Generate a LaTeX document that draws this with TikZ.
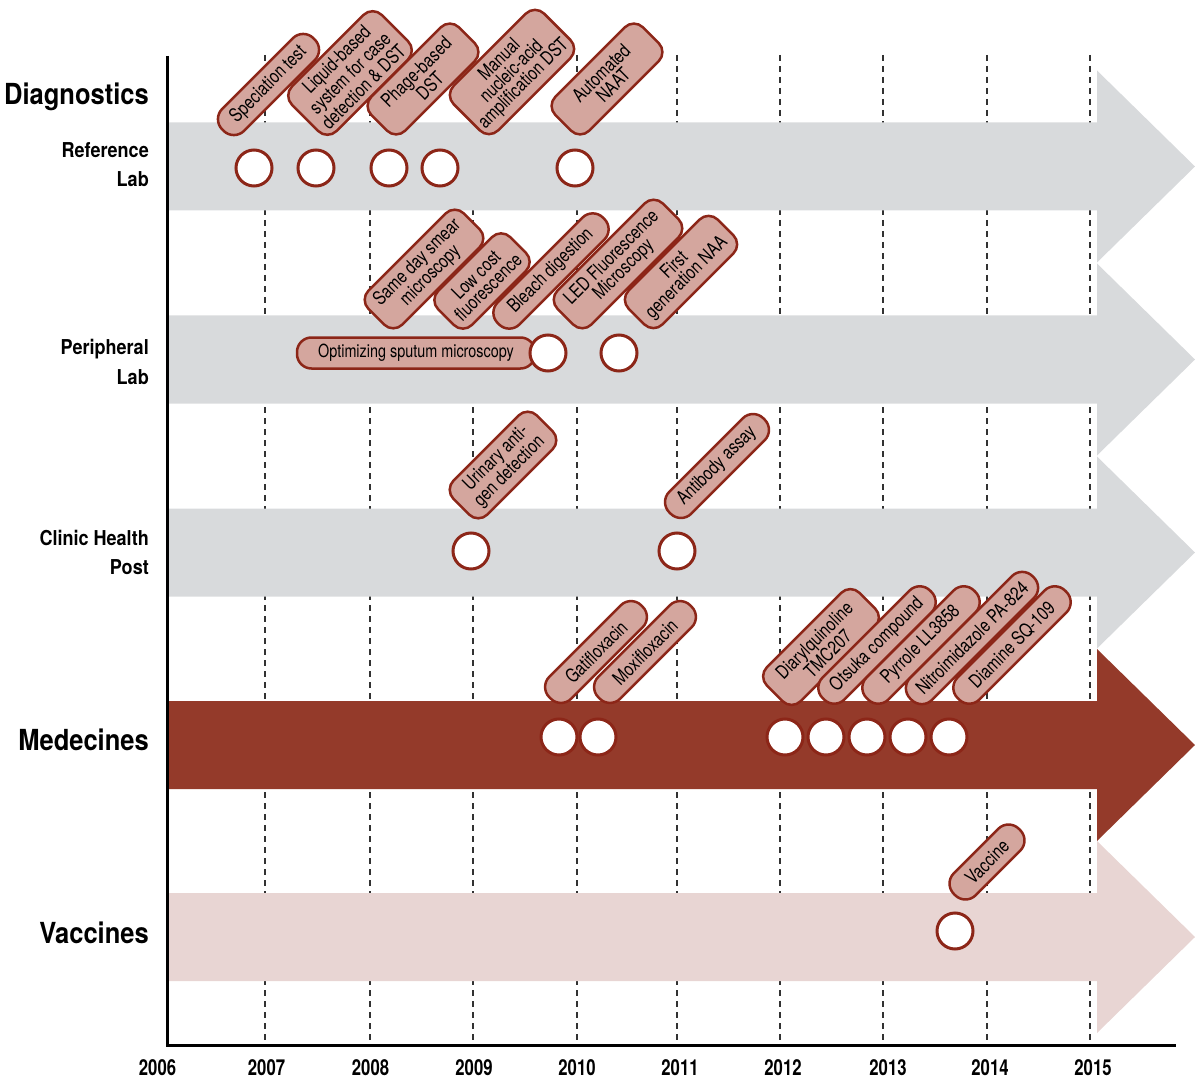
\documentclass[tikz,border=0pt]{standalone}
\usepackage{fontspec}
\setmainfont{TeX Gyre Heros}[FakeStretch=0.8]
\newfontfamily\headfont{TeX Gyre Heros}[FakeStretch=0.88]
\newfontfamily\yearfont{TeX Gyre Heros}[FakeStretch=0.76]
\definecolor{pillfill}{RGB}{212,166,158}
\definecolor{darkred}{RGB}{140,38,24}
\definecolor{medband}{RGB}{148,58,42}
\definecolor{grayband}{RGB}{216,218,220}
\definecolor{vacband}{RGB}{232,213,211}
\definecolor{dashcol}{RGB}{50,50,50}
\begin{document}
\begin{tikzpicture}[x=1pt,y=-1pt,
  pill/.style={draw=darkred, fill=pillfill, line width=2.5pt, rotate=45, align=center,
    inner xsep=4pt, inner ysep=2pt, font=\fontsize{19}{17}\selectfont},
  pone/.style={pill, minimum height=31pt, rounded corners=14.5pt},
  ptwo/.style={pill, minimum height=48pt, rounded corners=13pt},
  pthree/.style={pill, minimum height=63pt, rounded corners=13pt},
  dot/.style={circle, draw=darkred, line width=3pt, fill=white, minimum size=36pt, inner sep=0pt},
  yearlbl/.style={font=\yearfont\bfseries\fontsize{22}{22}\selectfont, anchor=base, inner sep=0pt},
  headlbl/.style={font=\headfont\bfseries\fontsize{29}{29}\selectfont, anchor=base east, inner sep=0pt},
  sublbl/.style={font=\headfont\bfseries\fontsize{20.5}{29}\selectfont, anchor=base east, inner sep=0pt},
  yearline/.style={dashcol, line width=1.4pt, dash pattern=on 6pt off 5pt},
]
\useasboundingbox (0,0) rectangle (1195,1078);

% year grid lines
\foreach \gx in {265,370,473,577,677,780,883,987,1090}
  \draw[yearline] (\gx,55) -- (\gx,1045);

% bands (arrows)
\foreach \cy/\col in {166.5/grayband, 359.5/grayband, 552.5/grayband, 745/medband, 937/vacband}
  \fill[\col] (167,\cy-44) -- (1097,\cy-44) -- (1097,\cy-96) -- (1195,\cy)
     -- (1097,\cy+96) -- (1097,\cy+44) -- (167,\cy+44) -- cycle;

% axes
\draw[line width=3pt] (167,56) -- (167,1045) -- (1176,1045);

% row labels
\node[headlbl] (diag) at (149,105) {Diagnostics};
\node[sublbl] (ref1) at (149,158) {Reference};
\node[sublbl] (ref2) at (149,187) {Lab};
\node[sublbl] (per1) at (149,355) {Peripheral};
\node[sublbl] (per2) at (149,384) {Lab};
\node[sublbl] (cli1) at (149,545) {Clinic Health};
\node[sublbl] (cli2) at (149,574) {Post};
\node[headlbl] (med) at (149,750) {Medecines};
\node[headlbl] (vac) at (149,943) {Vaccines};

% year labels
\foreach \yx/\yr in {157.5/2006,266.5/2007,370.5/2008,474/2009,577/2010,680/2011,783/2012,888/2013,990/2014,1093/2015}
  \node[yearlbl] (y\yr) at (\yx,1075) {\yr};

% Reference lab pills
\node[pone, minimum width=129pt] (p1) at (268.5,84.5) {Speciation test};
\node[pthree, minimum width=127pt] (p2) at (350,73) {Liquid-based\\system for case\\detection \& DST};
\node[ptwo, minimum width=124pt] (p3) at (423,79) {Phage-based\\DST};
\node[pthree, minimum width=128pt] (p4) at (512,72) {Manual\\nucleic-acid\\amplification DST};
\node[ptwo, minimum width=124pt] (p5) at (607,79) {Automated\\NAAT};

% Peripheral lab pills
\node[ptwo, minimum width=135pt] (p6) at (424,269) {Same day smear\\microscopy};
\node[ptwo, minimum width=102pt] (p7) at (482,281) {Low cost\\fluorescence};
\node[pone, minimum width=149pt] (p8) at (551,271) {Bleach digestion};
\node[ptwo, minimum width=149pt] (p9) at (618,264) {LED Fluorescence\\Microscopy};
\node[ptwo, minimum width=126pt] (p10) at (681,272) {First\\generation NAA};
\node[draw=darkred, fill=pillfill, line width=2.5pt, rounded corners=14.5pt, minimum height=31pt,
  minimum width=238pt, inner sep=2pt, font=\fontsize{18}{17}\selectfont] (p11) at (416,353) {Optimizing sputum microscopy};

% Clinic pills
\node[ptwo, minimum width=118pt] (p12) at (503,465) {Urinary anti-\\gen detection};
\node[pone, minimum width=133pt] (p13) at (717,466) {Antibody assay};

% Medicines pills
\node[pone, minimum width=130pt] (p14) at (596,652) {Gatifloxacin};
\node[pone, minimum width=130pt] (p15) at (645,652) {Moxifloxacin};
\node[ptwo, minimum width=131pt] (p16) at (821,647) {Diarylquinoline\\TMC207};
\node[pone, minimum width=152pt] (p17) at (877,645) {Otsuka compound};
\node[pone, minimum width=152pt] (p18) at (921,645) {Pyrrole LL3858};
\node[pone, minimum width=173pt] (p19) at (972,638) {Nitroimidazole PA-824};
\node[pone, minimum width=152pt] (p20) at (1012,645) {Diamine SQ-109};

% Vaccine pill
\node[pone, minimum width=92pt] (p21) at (987,862) {Vaccine};

% circles
\node[dot] (r1) at (254,168) {};
\node[dot] (r2) at (316,168) {};
\node[dot] (r3) at (389,168) {};
\node[dot] (r4) at (440,168) {};
\node[dot] (r5) at (575,168) {};
\node[dot] (q1) at (548,353) {};
\node[dot] (q2) at (619,353) {};
\node[dot] (k1) at (471,551) {};
\node[dot] (k2) at (677,551) {};
\node[dot] (m1) at (559,737) {};
\node[dot] (m2) at (598,737) {};
\node[dot] (m3) at (785,737) {};
\node[dot] (m4) at (826,737) {};
\node[dot] (m5) at (867,737) {};
\node[dot] (m6) at (908,737) {};
\node[dot] (m7) at (949,737) {};
\node[dot] (v1) at (955,931) {};
\end{tikzpicture}
\end{document}
